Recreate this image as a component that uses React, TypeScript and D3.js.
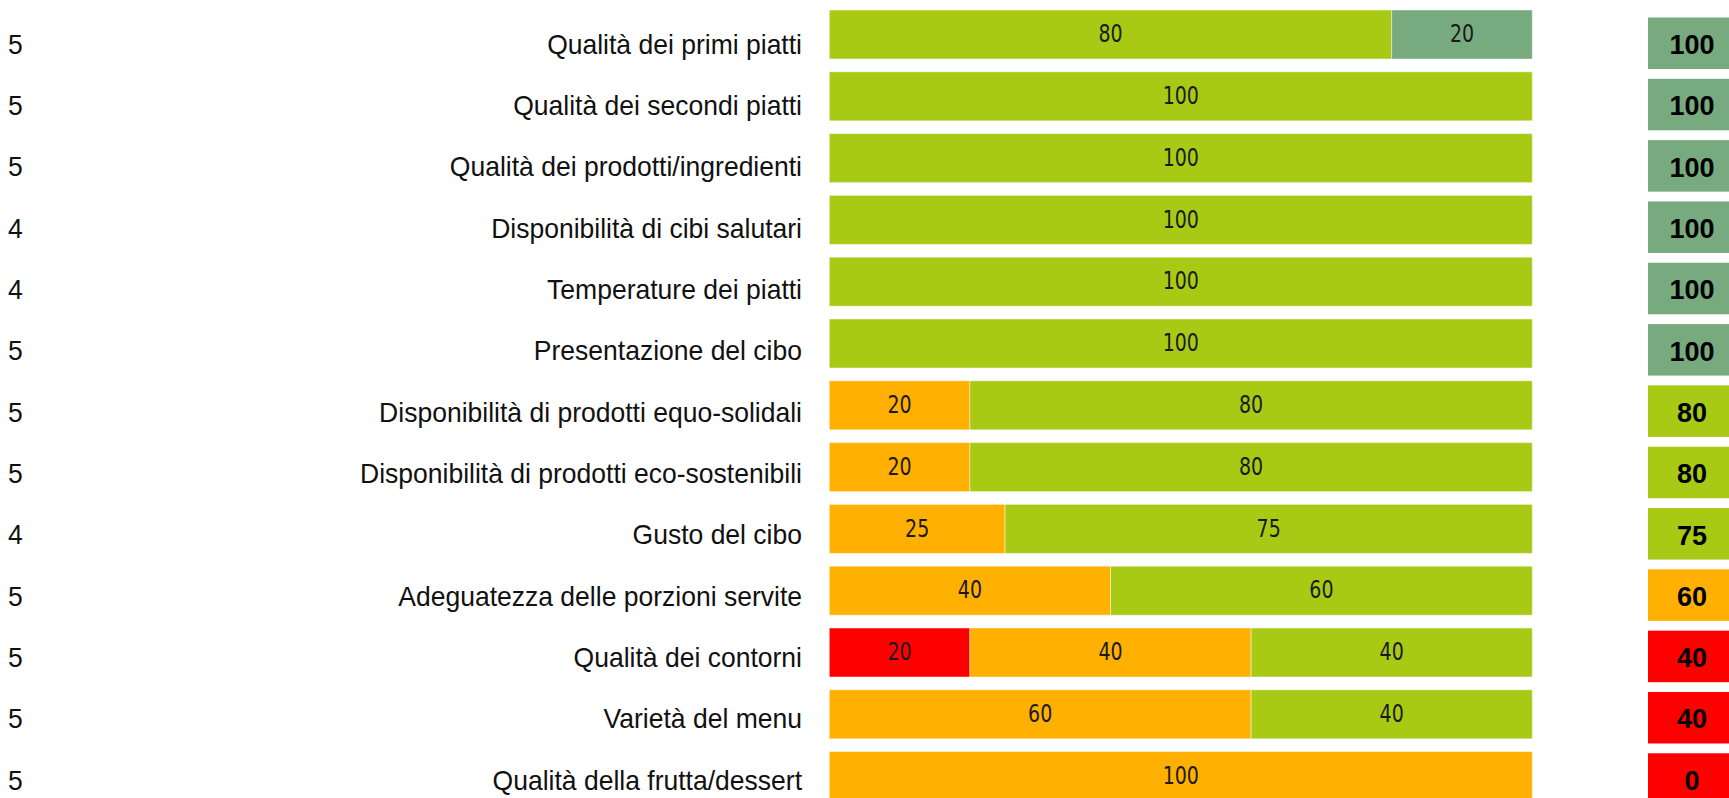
import React from "react";
import * as d3 from "d3";

// righe del questionario, dall'alto in basso
const categories = [
    "Qualità dei primi piatti",
    "Qualità dei secondi piatti",
    "Qualità dei prodotti/ingredienti",
    "Disponibilità di cibi salutari",
    "Temperature dei piatti",
    "Presentazione del cibo",
    "Disponibilità di prodotti equo-solidali",
    "Disponibilità di prodotti eco-sostenibili",
    "Gusto del cibo",
    "Adeguatezza delle porzioni servite",
    "Qualità dei contorni",
    "Varietà del menu",
    "Qualità della frutta/dessert",
];

const respondents = [5, 5, 5, 4, 4, 5, 5, 5, 4, 5, 5, 5, 5];

// percentuali per fascia di giudizio
const rosso = [0, 0, 0, 0, 0, 0, 0, 0, 0, 0, 20, 0, 0];
const arancio = [0, 0, 0, 0, 0, 0, 20, 20, 25, 40, 40, 60, 100];
const verde = [80, 100, 100, 100, 100, 100, 80, 80, 75, 60, 40, 40, 0];
const salvia = [20, 0, 0, 0, 0, 0, 0, 0, 0, 0, 0, 0, 0];

// indice di soddisfazione (colonna di destra)
const scores = [100, 100, 100, 100, 100, 100, 80, 80, 75, 60, 40, 40, 0];

const keys = ["rosso", "arancio", "verde", "salvia"] as const;
const colors: Record<string, string> = {
    rosso: "#ff0000",
    arancio: "#ffb000",
    verde: "#a8ca14",
    salvia: "#77aa7f",
};

const W = 1729;
const H = 798;

const App: React.FC = () => {
    const rows = categories.map((c, i) => ({
        cat: c,
        rosso: rosso[i],
        arancio: arancio[i],
        verde: verde[i],
        salvia: salvia[i],
    }));

    const series = d3.stack<any>().keys(keys as unknown as string[])(rows);

    const x = d3.scaleLinear().domain([0, 100]).range([829.3, 1532.3]);

    const yBar = d3
        .scaleBand<string>()
        .domain(categories)
        .range([10, 800.6])
        .paddingInner(0.207)
        .paddingOuter(0);

    const yBox = d3
        .scaleBand<string>()
        .domain(categories)
        .range([17.5, 804.8])
        .paddingInner(0.16)
        .paddingOuter(0);

    const scoreColor = d3
        .scaleThreshold<number, string>()
        .domain([50, 70, 90])
        .range([colors.rosso, colors.arancio, colors.verde, colors.salvia]);

    return (
        <svg
            width={W}
            height={H}
            style={{ position: "absolute", left: 0, top: 0, background: "#fff" }}
        >
            {/* numero di risposte + etichette */}
            <g fontFamily="'Liberation Sans', Arial, sans-serif" fontSize={25.5} fill="#111">
                {categories.map((c, i) => {
                    const cy = (yBox(c) ?? 0) + yBox.bandwidth() / 2 + 0.5;
                    return (
                        <g key={c}>
                            <text
                                transform={`translate(8,${cy}) scale(1.04,1.1)`}
                                dy="0.36em"
                            >
                                {respondents[i]}
                            </text>
                            <text
                                transform={`translate(802,${cy}) scale(1.04,1.1)`}
                                dy="0.36em"
                                textAnchor="end"
                            >
                                {c}
                            </text>
                        </g>
                    );
                })}
            </g>

            {/* barre impilate */}
            {series.map((s) => (
                <g key={s.key} fill={colors[s.key]}>
                    {s.map((d, i) =>
                        d[1] - d[0] > 0 ? (
                            <rect
                                key={i}
                                x={x(d[0])}
                                y={yBar(categories[i])}
                                width={x(d[1]) - x(d[0])}
                                height={yBar.bandwidth()}
                                stroke="#ffffff"
                                strokeOpacity={0.45}
                                strokeWidth={1}
                            />
                        ) : null
                    )}
                </g>
            ))}

            {/* valori dentro le barre */}
            <g fontFamily="'DejaVu Sans', Verdana, sans-serif" fontSize={19} fill="#1a1a1a">
                {series.map((s) =>
                    s.map((d, i) => {
                        const v = d[1] - d[0];
                        if (v <= 0) return null;
                        const cx = (x(d[0]) + x(d[1])) / 2;
                        const cy = (yBar(categories[i]) ?? 0) + yBar.bandwidth() / 2 - 1.5;
                        return (
                            <text
                                key={s.key + i}
                                transform={`translate(${cx},${cy}) scale(1,1.35)`}
                                textAnchor="middle"
                                dy="0.36em"
                            >
                                {v}
                            </text>
                        );
                    })
                )}
            </g>

            {/* punteggio */}
            {categories.map((c, i) => {
                const y0 = yBox(c) ?? 0;
                return (
                    <g key={"score" + c}>
                        <rect
                            x={1648}
                            y={y0}
                            width={88}
                            height={yBox.bandwidth()}
                            fill={scoreColor(scores[i])}
                        />
                        <text
                            x={1692}
                            y={y0 + yBox.bandwidth() / 2 + 1}
                            dy="0.36em"
                            textAnchor="middle"
                            fontFamily="'Liberation Sans', Arial, sans-serif"
                            fontWeight="bold"
                            fontSize={27}
                            fill="#000"
                        >
                            {scores[i]}
                        </text>
                    </g>
                );
            })}
        </svg>
    );
};

export default App;
